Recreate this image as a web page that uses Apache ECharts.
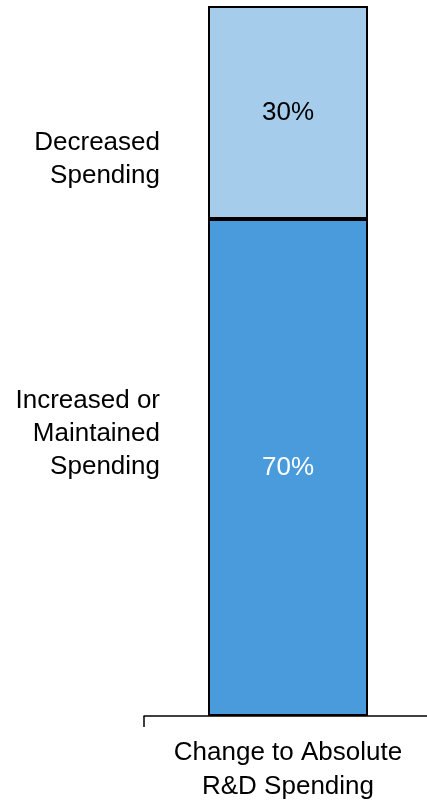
<!DOCTYPE html>
<html>
<head>
<meta charset="utf-8">
<style>
  html, body { margin: 0; padding: 0; background: #ffffff; }
  #chart { width: 427px; height: 804px; }
</style>
<script src="https://cdn.jsdelivr.net/npm/echarts@6/dist/echarts.min.js"></script>
</head>
<body>
<div id="chart"></div>
<script>
// Single stacked column: share of companies by change in R&D spending
const categories = ['Change to Absolute\nR&D Spending'];
const segmentNames = ['Increased or\nMaintained\nSpending', 'Decreased\nSpending'];
const shares = [70, 30];
const segmentColors = ['#4A9BDC', '#A6CCEC'];
const valueLabelColors = ['#ffffff', '#000000'];
// vertical shift of each side caption relative to its segment centre
const captionShift = [-34, 47];

const FONT = '"Liberation Sans", Arial, sans-serif';

const chart = echarts.init(document.getElementById('chart'), null, { renderer: 'canvas' });

const series = [];
shares.forEach((v, i) => {
  series.push({
    name: segmentNames[i],
    type: 'bar',
    stack: 'share',
    barWidth: 160,
    data: [v],
    itemStyle: { color: segmentColors[i], borderColor: '#000000', borderWidth: 2 },
    label: {
      show: true,
      position: 'inside',
      formatter: '{c}%',
      color: valueLabelColors[i],
      fontFamily: FONT,
      fontSize: 26
    },
    emphasis: { disabled: true },
    z: 3
  });
});
// transparent twin stack carrying the side captions
shares.forEach((v, i) => {
  series.push({
    name: 'caption-' + i,
    type: 'bar',
    stack: 'caption',
    barWidth: 160,
    barGap: '-100%',
    data: [v],
    itemStyle: { color: 'rgba(0,0,0,0)', borderWidth: 0 },
    label: {
      show: true,
      position: 'left',
      distance: 48,
      offset: [0, captionShift[i]],
      formatter: () => segmentNames[i],
      align: 'right',
      color: '#000000',
      fontFamily: FONT,
      fontSize: 26,
      lineHeight: 33
    },
    emphasis: { disabled: true },
    silent: true,
    z: 2
  });
});

chart.setOption({
  animation: false,
  backgroundColor: '#ffffff',
  grid: {
    left: 144, top: 6, bottom: 88, width: 288,
    containLabel: false,
    outerBoundsMode: 'none'
  },
  xAxis: {
    type: 'category',
    data: categories,
    axisLine: { show: true, lineStyle: { color: '#000000', width: 1.5 } },
    axisTick: { show: true, alignWithLabel: false, length: 11, lineStyle: { color: '#000000', width: 1.5 } },
    axisLabel: {
      color: '#000000',
      fontFamily: FONT,
      fontSize: 26,
      lineHeight: 34,
      margin: 20,
      align: 'center'
    }
  },
  yAxis: {
    type: 'value',
    min: 0,
    max: 100,
    show: false
  },
  series: series
});
</script>
</body>
</html>
